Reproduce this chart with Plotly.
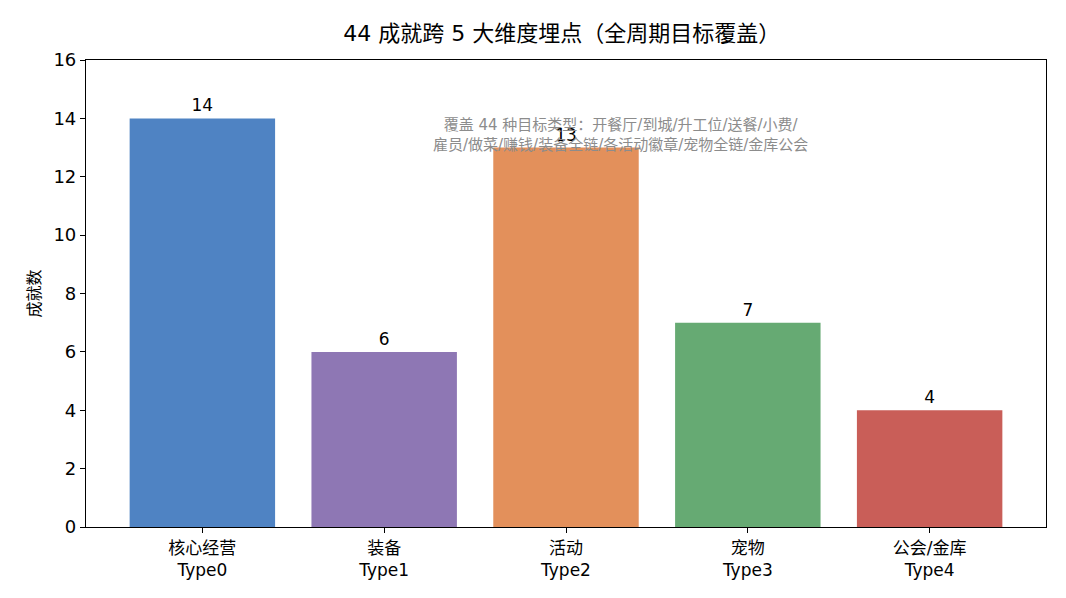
import plotly.graph_objects as go

categories = ["核心经营<br>Type0", "装备<br>Type1", "活动<br>Type2", "宠物<br>Type3", "公会/金库<br>Type4"]
values = [14, 6, 13, 7, 4]
colors = ["#4F83C3", "#8E77B4", "#E3905B", "#66AA73", "#C95E58"]
title = "44 成就跨 5 大维度埋点（全周期目标覆盖）"
note = "覆盖 44 种目标类型：开餐厅/到城/升工位/送餐/小费/<br>雇员/做菜/赚钱/装备全链/各活动徽章/宠物全链/金库公会"

FONT = "DejaVu Sans, Noto Sans CJK SC, sans-serif"

fig = go.Figure()
fig.add_trace(go.Bar(
    x=list(range(len(categories))), y=values,
    marker=dict(color=colors, line=dict(width=0)),
    width=0.8,
    text=[str(v) for v in values], textposition="outside",
    textfont=dict(size=17, color="black", family=FONT),
    cliponaxis=False,
))
fig.add_annotation(
    x=0.557, y=0.84, xref="paper", yref="paper", text=note, showarrow=False,
    font=dict(size=15, color="#8c8c8c", family=FONT), align="center",
    xanchor="center", yanchor="middle",
)
fig.update_layout(
    width=1066, height=598,
    margin=dict(l=86, r=20, t=60, b=71),
    paper_bgcolor="white", plot_bgcolor="white",
    font=dict(family=FONT, color="black"),
    title=dict(text=title, x=0.527, xanchor="center", y=0.945, yanchor="middle",
               font=dict(size=22, family=FONT)),
    showlegend=False,
    bargap=0.2,
)
fig.update_xaxes(
    tickvals=list(range(len(categories))), ticktext=categories,
    range=[-0.64, 4.64],
    showline=True, linecolor="black", linewidth=1.2, mirror=True,
    ticks="outside", ticklen=5, tickcolor="black",
    showgrid=False, zeroline=False,
    tickfont=dict(size=17, family=FONT),
)
fig.update_yaxes(
    range=[0, 16], dtick=2,
    showline=True, linecolor="black", linewidth=1.2, mirror=True,
    ticks="outside", ticklen=5, tickcolor="black",
    showgrid=False, zeroline=False,
    tickfont=dict(size=18, family=FONT),
    title=dict(text="成就数", font=dict(size=16, family=FONT), standoff=8),
)
fig.write_html("out.html")
